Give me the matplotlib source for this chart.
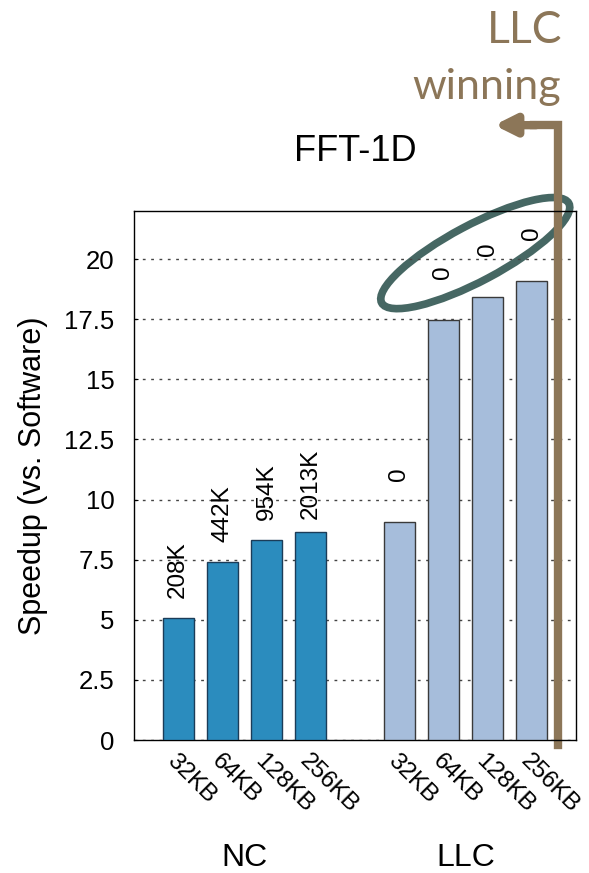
import matplotlib
matplotlib.use('Agg')
import matplotlib.pyplot as plt
from matplotlib.patches import Ellipse
from matplotlib.lines import Line2D
from matplotlib.transforms import ScaledTranslation

plt.rcParams['font.family'] = ['Liberation Sans', 'DejaVu Sans']

sizes = ['32KB', '64KB', '128KB', '256KB']
groups = ['NC', 'LLC']
nc_speedup = [5.07, 7.41, 8.32, 8.66]
llc_speedup = [9.05, 17.46, 18.42, 19.09]
nc_labels = ['208K', '442K', '954K', '2013K']
llc_labels = ['0', '0', '0', '0']
yticks = [0, 2.5, 5, 7.5, 10, 12.5, 15, 17.5, 20]

brown = '#8c7658'

fig = plt.figure(figsize=(5.89, 8.73), dpi=100)
ax = fig.add_axes([0.2275, 0.1523, 0.7505, 0.606])

nc_x = list(range(len(sizes)))
llc_x = [x + len(sizes) + 1 for x in nc_x]

ax.bar(nc_x, nc_speedup, width=0.7, color='#2b8cbe', edgecolor='#1b3c58', linewidth=1, zorder=3)
ax.bar(llc_x, llc_speedup, width=0.7, color='#a6bddb', edgecolor='#3a3a3a', linewidth=1, zorder=3)

# rotated counts above bars
for x, v, s in zip(nc_x, nc_speedup, nc_labels):
    ax.text(x, v + 2, s, rotation=90, ha='center', va='center', fontsize=17.5)
for x, v, s in zip(llc_x, llc_speedup, llc_labels):
    ax.text(x, v + 2, s, rotation=90, ha='center', va='center', fontsize=17.5)

ax.set_xlim(-1, 9)
ax.set_ylim(0, 22)
ax.set_yticks(yticks)
ax.set_yticklabels(['%g' % t for t in yticks], fontsize=18.5)
ax.tick_params(axis='y', direction='in', length=3, pad=14)
ax.grid(axis='y', linestyle=(0, (2, 4)), color='#444444', linewidth=1, zorder=0)

ax.set_xticks(nc_x + llc_x)
ax.set_xticklabels(sizes + sizes, rotation=-45, ha='left', rotation_mode='anchor', fontsize=17.5)
ax.tick_params(axis='x', length=0, pad=7)

for sp in ax.spines.values():
    sp.set_linewidth(1)

ax.set_ylabel('Speedup (vs. Software)', fontsize=22, labelpad=12)
ax.set_title('FFT-1D', fontsize=26, pad=36)

# group names under the ticks
ax.text(sum(nc_x) / len(nc_x), -4.9, groups[0], ha='center', va='center', fontsize=23)
ax.text(sum(llc_x) / len(llc_x), -4.9, groups[1], ha='center', va='center', fontsize=23)

# LLC winning marker
ax.add_line(Line2D([8.6, 8.6, 8.05], [-0.2, 25.57, 25.57], color=brown, lw=6,
                   solid_joinstyle='miter', clip_on=False))
ax.annotate('', xy=(7.15, 25.57), xytext=(8.1, 25.57), annotation_clip=False,
            arrowprops=dict(arrowstyle='-|>,head_length=1.2,head_width=0.6',
                            color=brown, lw=6, shrinkA=0, shrinkB=0))
fig.text(0.955, 0.965, 'LLC', ha='right', va='center', fontsize=32, color=brown, family='Lato')
fig.text(0.953, 0.9, 'winning', ha='right', va='center', fontsize=31, color=brown, family='Lato')

# ellipse around LLC bars
off = fig.dpi_scale_trans + ScaledTranslation(6.72, 20.25, ax.transData)
ax.add_patch(Ellipse((0, 0), 2.12, 0.56, angle=28, fill=False, edgecolor='#466763',
                     lw=5.5, transform=off, clip_on=False))

fig.savefig('out.png', dpi=100)
